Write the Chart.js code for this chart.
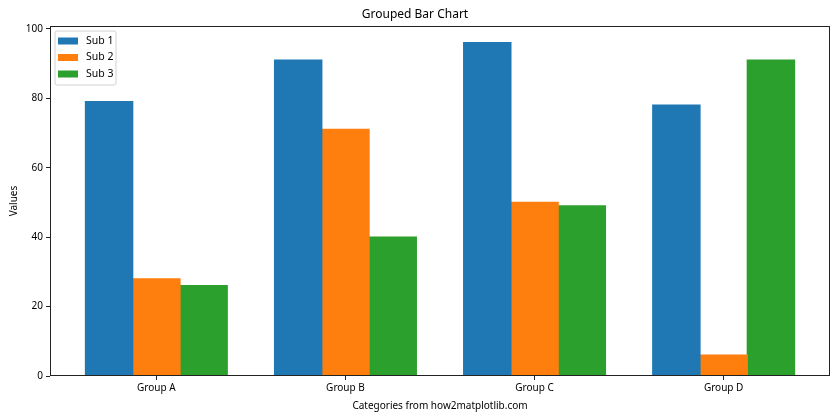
<!DOCTYPE html>
<html>
<head>
<meta charset="utf-8">
<script src="https://cdn.jsdelivr.net/npm/chart.js@4/dist/chart.umd.min.js"></script>
<style>
  html, body { margin: 0; padding: 0; background: #fff; }
  #wrap { width: 840px; height: 420px; position: relative; }
</style>
</head>
<body>
<div id="wrap"><canvas id="c" width="840" height="420"></canvas></div>
<script>
const categories = ['Group A', 'Group B', 'Group C', 'Group D'];
const seriesNames = ['Sub 1', 'Sub 2', 'Sub 3'];
const sub1 = [79, 91, 96, 78];
const sub2 = [28, 71, 50, 6];
const sub3 = [26, 40, 49, 91];
const yTicks = [0, 20, 40, 60, 80, 100];
const colors = ['#1f77b4', '#ff7f0e', '#2ca02c'];

const FONT = '"Noto Sans", "DejaVu Sans", sans-serif';
const INK = '#000';

function toPoints(arr) { return arr.map((v, i) => ({ x: i, y: v })); }

const frame = {
  id: 'frame',
  afterDatasetsDraw(chart) {
    const a = chart.chartArea, ctx = chart.ctx;
    ctx.save();
    ctx.strokeStyle = '#222';
    ctx.lineWidth = 1;
    ctx.strokeRect(Math.round(a.left) + 0.5, Math.round(a.top) + 0.5,
                   Math.round(a.right - a.left) - 1, Math.round(a.bottom - a.top) - 1);
    ctx.restore();
  },
  afterDraw(chart) {
    const ctx = chart.ctx, a = chart.chartArea;
    const x0 = a.left + 5, y0 = a.top + 5, w = 61, h = 54;
    ctx.save();
    ctx.beginPath();
    const r = 2;
    ctx.moveTo(x0 + r, y0);
    ctx.arcTo(x0 + w, y0, x0 + w, y0 + h, r);
    ctx.arcTo(x0 + w, y0 + h, x0, y0 + h, r);
    ctx.arcTo(x0, y0 + h, x0, y0, r);
    ctx.arcTo(x0, y0, x0 + w, y0, r);
    ctx.closePath();
    ctx.fillStyle = 'rgba(255,255,255,0.8)';
    ctx.fill();
    ctx.strokeStyle = '#d0d0d0';
    ctx.lineWidth = 1;
    ctx.stroke();
    ctx.font = '10.5px ' + FONT;
    ctx.textBaseline = 'middle';
    ctx.textAlign = 'left';
    chart.data.datasets.forEach((ds, i) => {
      const cy = y0 + 10 + i * 16.5;
      ctx.fillStyle = ds.backgroundColor;
      ctx.fillRect(x0 + 3, cy - 3.5, 20, 7);
      ctx.fillStyle = INK;
      ctx.fillText(ds.label, x0 + 31, cy);
    });
    ctx.restore();
  }
};

new Chart(document.getElementById('c'), {
  type: 'bar',
  data: {
    datasets: [
      { label: seriesNames[0], data: toPoints(sub1), backgroundColor: colors[0] },
      { label: seriesNames[1], data: toPoints(sub2), backgroundColor: colors[1] },
      { label: seriesNames[2], data: toPoints(sub3), backgroundColor: colors[2] }
    ]
  },
  options: {
    responsive: false,
    animation: false,
    devicePixelRatio: 1,
    layout: { padding: { left: 0, right: 10, top: 0, bottom: 0 } },
    datasets: { bar: { categoryPercentage: 0.75, barPercentage: 1.0, borderWidth: 0, inflateAmount: 0.6 } },
    plugins: {
      legend: { display: false },
      tooltip: { enabled: false },
      title: {
        display: true,
        text: 'Grouped Bar Chart',
        color: INK,
        font: { family: FONT, size: 12, weight: 'normal' },
        padding: { top: 7, bottom: 4.6 }
      }
    },
    scales: {
      x: {
        type: 'linear',
        min: -0.5625,
        max: 3.5625,
        offset: false,
        afterBuildTicks(s) { s.ticks = categories.map((c, i) => ({ value: i })); },
        afterFit(s) { s.height = 44; },
        ticks: {
          color: INK,
          font: { family: FONT, size: 10 },
          padding: 2,
          maxRotation: 0,
          autoSkip: false,
          callback: (v) => categories[v]
        },
        grid: { display: true, drawOnChartArea: false, offset: false, tickLength: 4, color: '#222', tickColor: '#222' },
        border: { display: false },
        title: {
          display: true,
          text: 'Categories from how2matplotlib.com',
          color: INK,
          font: { family: FONT, size: 10 },
          padding: { top: 0, bottom: 8 }
        }
      },
      y: {
        min: 0,
        max: 100.8,
        afterBuildTicks(s) { s.ticks = yTicks.map(v => ({ value: v })); },
        afterFit(s) { s.width = 50; },
        ticks: {
          color: INK,
          font: { family: FONT, size: 10 },
          padding: 3
        },
        grid: { display: true, drawOnChartArea: false, tickLength: 4, color: '#222', tickColor: '#222' },
        border: { display: false },
        title: {
          display: true,
          text: 'Values',
          color: INK,
          font: { family: FONT, size: 10 },
          padding: { top: 8, bottom: 0 }
        }
      }
    }
  },
  plugins: [frame]
});
</script>
</body>
</html>
